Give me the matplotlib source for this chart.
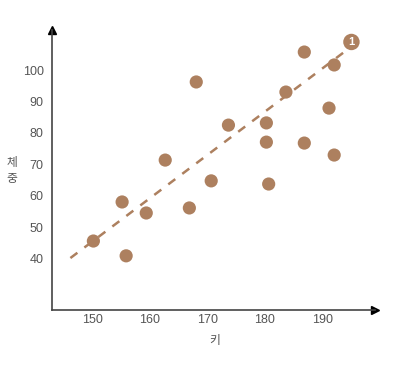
import matplotlib
matplotlib.use("Agg")
import matplotlib.pyplot as plt

plt.rcParams['font.family'] = ['Liberation Sans', 'Noto Sans CJK KR', 'DejaVu Sans']

height = [150.2, 155.2, 155.9, 159.4, 162.7, 166.9, 168.1, 170.7, 173.7,
          180.3, 180.3, 180.7, 183.7, 186.9, 186.9, 191.2, 192.1, 192.1]
weight = [45.7, 58.1, 41.0, 54.6, 71.4, 56.2, 96.2, 64.8, 82.5,
          83.2, 77.1, 63.8, 93.0, 105.7, 76.8, 87.9, 101.6, 73.0]
trend_x = [146.2, 195.0]
trend_y = [40.3, 107.3]
badge_xy = (195.1, 108.9)
badge_label = "1"
xticks = [150, 160, 170, 180, 190]
yticks = [40, 50, 60, 70, 80, 90, 100]
xlabel = "키"
ylabel_chars = ["체", "중"]

brown = "#ad805f"
axis_col = "#444444"
text_col = "#555555"

fig = plt.figure(figsize=(4.07, 3.70), dpi=100)
ax = fig.add_axes([52/407, 60/370, 323/407, 280/370])
ax.set_xlim(143.0, 199.2)
ax.set_ylim(23.8, 112.7)

ax.plot(trend_x, trend_y, ls=(0, (3.5, 3.5)), color=brown, lw=1.8, zorder=2)
ax.scatter(height, weight, s=90, color=brown, edgecolors='none', zorder=3)
ax.scatter([badge_xy[0]], [badge_xy[1]], s=140, color=brown, edgecolors='none', zorder=3)
ax.text(badge_xy[0], badge_xy[1], badge_label, color='white', fontsize=8,
        fontweight='bold', ha='center', va='center', zorder=4)

for s in ['top', 'right']:
    ax.spines[s].set_visible(False)
for s in ['left', 'bottom']:
    ax.spines[s].set_color(axis_col)
    ax.spines[s].set_linewidth(1.2)

ax.plot(1, 0, '>', color='black', markersize=6, transform=ax.transAxes, clip_on=False)
ax.plot(0, 1, '^', color='black', markersize=6, transform=ax.transAxes, clip_on=False)

ax.set_xticks(xticks)
ax.set_yticks(yticks)
ax.tick_params(length=0, labelsize=9, labelcolor=text_col)
ax.tick_params(axis='x', pad=3)
ax.tick_params(axis='y', pad=6)

fig.text(215/407, 1 - 341/370, xlabel, ha='center', va='center', fontsize=8.5, color=text_col)
fig.text(12/407, 1 - 163/370, ylabel_chars[0], ha='center', va='center', fontsize=8.5, color=text_col)
fig.text(12/407, 1 - 179/370, ylabel_chars[1], ha='center', va='center', fontsize=8.5, color=text_col)

fig.savefig("out.png", dpi=100)
